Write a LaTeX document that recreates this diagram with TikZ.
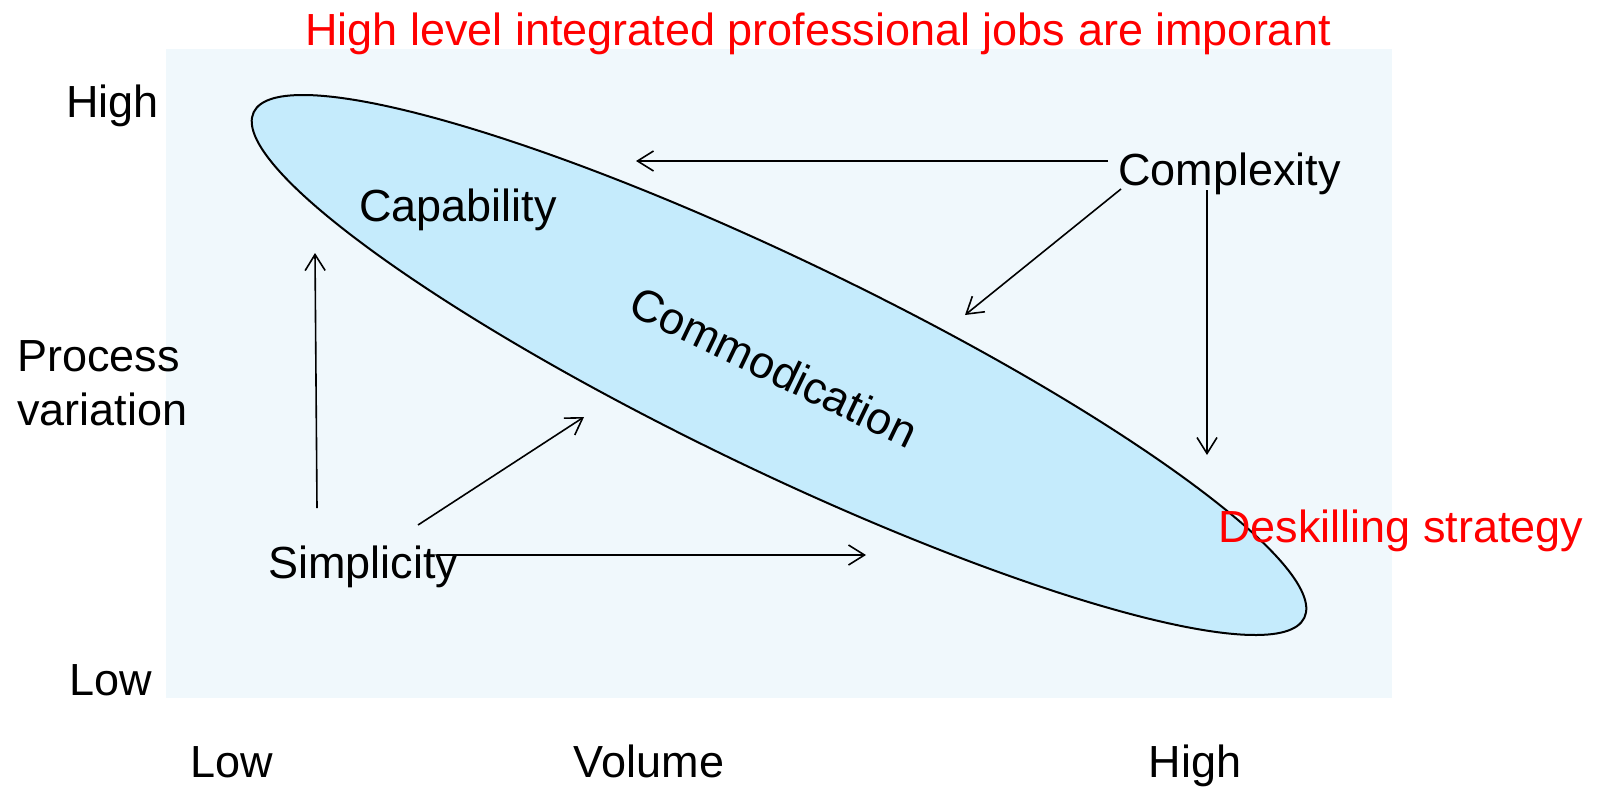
\documentclass[tikz,border=0pt]{standalone}
\usepackage{fontspec}
\setmainfont{Liberation Sans}
\usetikzlibrary{arrows.meta,shapes.geometric}
\definecolor{panel}{HTML}{F0F8FC}
\definecolor{blob}{HTML}{C5EBFC}
\begin{document}
\begin{tikzpicture}[x=1pt,y=-1pt,
  lbl/.style={inner sep=0pt, font=\fontsize{45pt}{54pt}\selectfont},
  redlbl/.style={lbl, text=red},
  arr/.style={line width=1.6pt, -{Straight Barb[length=16pt,width=20pt,line width=1.6pt]}}]
\useasboundingbox (0,0) rectangle (1597,787);
% shaded chart area and the tilted band
\node[fill=panel, inner sep=0pt, minimum width=1226pt, minimum height=649pt, anchor=north west] (panel) at (166,49) {};
\node[ellipse, draw, line width=2pt, fill=blob, minimum width=1166pt, minimum height=210pt, inner sep=0pt, rotate=-25.7] (blob) at (779,365) {};

% axis labels
\node[redlbl, anchor=base] (title) at (818,45) {High level integrated professional jobs are imporant};
\node[lbl, anchor=base west] (vhigh) at (66,117) {High};
\node[lbl, anchor=base west] (pv1) at (17,371) {Process};
\node[lbl, anchor=base west] (pv2) at (17,425) {variation};
\node[lbl, anchor=base west] (vlow) at (69,695) {Low};
\node[lbl, anchor=base west] (hlow) at (190,777) {Low};
\node[lbl, anchor=base] (volume) at (649,777) {Volume};
\node[lbl, anchor=base] (hhigh) at (1195,777) {High};

% labels inside the chart
\node[lbl, anchor=base west] (capability) at (359,221) {Capability};
\node[lbl, anchor=base west] (complexity) at (1118,185) {Complexity};
\node[lbl, anchor=base west] (simplicity) at (268,578) {Simplicity};
\node[lbl, rotate=-25.7] (commod) at (774,367) {Commodication};
\node[redlbl, anchor=base west] (deskill) at (1218,542) {Deskilling strategy};

% arrow end points
\coordinate (cxA) at (1108,161); \coordinate (capT) at (636,161);
\coordinate (cxB) at (1121,189); \coordinate (cmT) at (965,315);
\coordinate (cxC) at (1207,190); \coordinate (dsT) at (1207,455);
\coordinate (smA) at (317,508);  \coordinate (upT) at (315,253);
\coordinate (smB) at (418,525);  \coordinate (urT) at (584,417);
\coordinate (smC) at (437,555);  \coordinate (rtT) at (866,555);

\draw[arr] (cxA) -- (capT);
\draw[arr] (cxB) -- (cmT);
\draw[arr] (cxC) -- (dsT);
\draw[arr] (smA) -- (upT);
\draw[arr] (smB) -- (urT);
\draw[arr] (smC) -- (rtT);
\end{tikzpicture}
\end{document}
